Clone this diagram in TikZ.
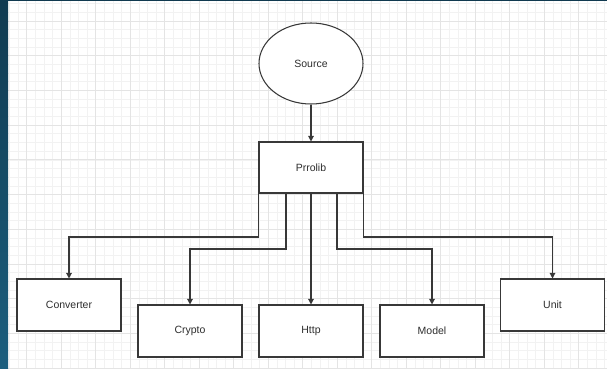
\documentclass[tikz,border=0pt]{standalone}
\usepackage{fontspec}
\setmainfont{Liberation Sans}
\usetikzlibrary{arrows.meta,shapes.geometric}
\definecolor{bandtop}{HTML}{103A50}
\definecolor{bandbot}{HTML}{1B5E7E}
\definecolor{linec}{HTML}{383838}
\definecolor{textc}{HTML}{2E2E2E}
\definecolor{gridmaj}{HTML}{E4E4E4}
\definecolor{gridmin}{HTML}{F2F2F2}
\begin{document}
\begin{tikzpicture}[x=1pt,y=-1pt,
  lbl/.style={font=\fontsize{10.5}{12}\selectfont,text=textc},
  boxnode/.style={lbl,draw=linec,line width=1.05pt,fill=white,minimum width=104pt,minimum height=52pt,inner sep=0pt},
  ellnode/.style={lbl,ellipse,draw=linec,line width=1.05pt,fill=white,minimum width=104pt,minimum height=81pt,inner sep=0pt},
  conn/.style={draw=linec,line width=1.15pt,-{Triangle[length=5.5pt,width=5.5pt]}},
  minorline/.style={draw=gridmin,line width=0.6pt},
  majorline/.style={draw=gridmaj,line width=0.8pt}]
\useasboundingbox (0,0) rectangle (607,369);
\fill[white] (0,0) rectangle (607,369);
\begin{scope}
  \clip (8,1.5) rectangle (607,369);
  \foreach \i in {-4,...,72} {
    \draw[minorline] ({26.7+\i*8.625},0) -- ++(0,369);
  }
  \foreach \j in {-4,...,44} {
    \draw[minorline] (0,{21+\j*8.675}) -- ++(607,0);
  }
  \foreach \i in {-1,...,18} {
    \draw[majorline] ({26.7+\i*34.5},0) -- ++(0,369);
  }
  \foreach \j in {-1,...,11} {
    \draw[majorline] (0,{21+\j*34.7}) -- ++(607,0);
  }
\end{scope}
\shade[top color=bandtop,bottom color=bandbot] (0,0) rectangle (8,369);
\fill[bandtop] (0,0) rectangle (607,1.5);

\node[ellnode] (src) at (311,63.5) {Source};
\node[boxnode,minimum height=51pt] (prr) at (311,167.5) {Prrolib};
\node[boxnode] (conv) at (69,305) {Converter};
\node[boxnode] (cry) at (190,331) {Crypto};
\node[boxnode] (http) at (311,331) {Http};
\node[boxnode] (mod) at (432,331) {Model};
\node[boxnode] (unit) at (552.5,305) {Unit};

\draw[conn] (src) -- (prr);
\draw[conn] (prr.south west) -- (prr.south west |- 0,237) -| (conv.north);
\draw[conn] ([xshift=-25pt]prr.south) -- ([xshift=-25pt]prr.south |- 0,249) -| (cry.north);
\draw[conn] (prr.south) -- (http.north);
\draw[conn] ([xshift=26pt]prr.south) -- ([xshift=26pt]prr.south |- 0,249) -| (mod.north);
\draw[conn] (prr.south east) -- (prr.south east |- 0,237) -| (unit.north);
\end{tikzpicture}
\end{document}
